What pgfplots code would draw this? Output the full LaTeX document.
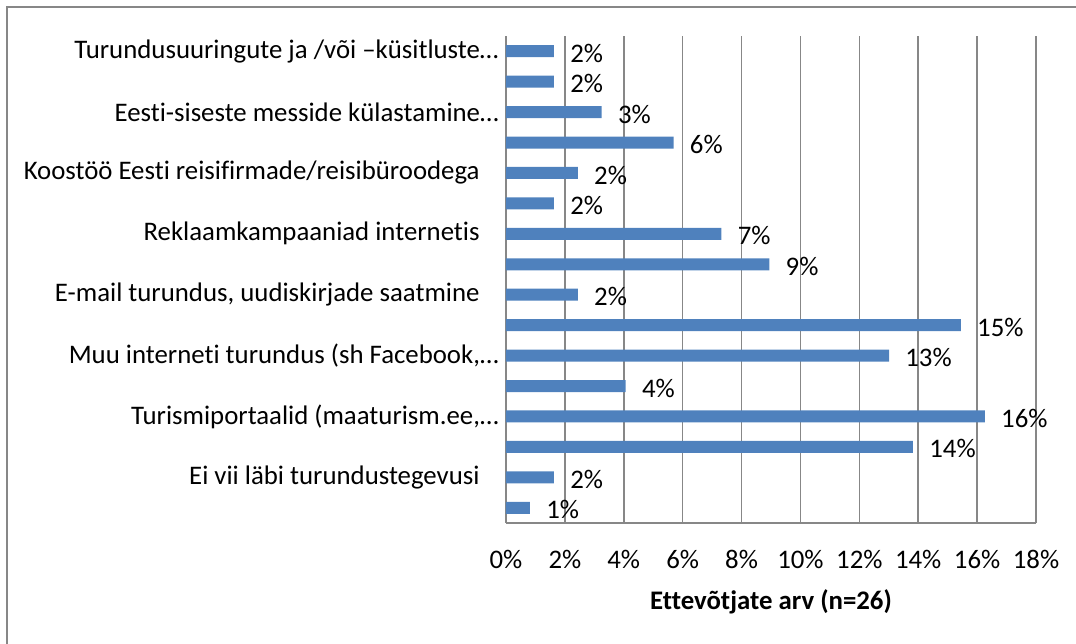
\documentclass[border=0pt]{standalone}
\usepackage{fontspec}
\setmainfont[Ligatures=NoCommon]{Carlito}
\usepackage{pgfplots}
\pgfplotsset{compat=1.18}

\definecolor{barblue}{HTML}{4F81BD}
\definecolor{gridgray}{HTML}{878787}

\newcommand{\pad}{\rule{9.5pt}{0pt}}

\begin{document}
\fontsize{13.4pt}{15pt}\selectfont
\begin{tikzpicture}
\begin{axis}[
    scale only axis,
    width=265pt,
    height=243.5pt,
    xbar,
    bar width=6pt,
    xmin=0, xmax=18,
    ymin=-0.5, ymax=15.5,
    y dir=reverse,
    axis x line=bottom,
    axis y line=left,
    axis line style={gridgray, line width=0.75pt, -},
    xmajorgrids,
    grid style={gridgray, line width=0.75pt},
    major tick length=0pt,
    xtick={0,2,...,18},
    xticklabel={\pgfmathprintnumber{\tick}\%},
    xticklabel style={anchor=base, yshift=-22.5pt},
    /pgf/number format/assume math mode=true,
    ytick={0,...,15},
    yticklabels={
        Turundusuuringute ja /või –küsitluste…, {},
        Eesti-siseste messide külastamine…, {},
        Koostöö Eesti reisifirmade/reisibüroodega\pad, {},
        Reklaamkampaaniad internetis\pad, {},
        {E-mail turundus, uudiskirjade saatmine\pad}, {},
        {Muu interneti turundus (sh Facebook,…}, {},
        {Turismiportaalid (maaturism.ee,…}, {},
        Ei vii läbi turundustegevusi\pad, {}
    },
    yticklabel style={anchor=east, inner xsep=0pt, xshift=-3.5pt},
    xlabel={\bfseries Ettevõtjate arv (n=26)},
    xlabel style={at={(rel axis cs:0.5,0)}, anchor=base, yshift=-43pt},
    point meta=x,
    nodes near coords={\pgfmathprintnumber[fixed,precision=0]{\pgfplotspointmeta}\%},
    nodes near coords style={anchor=west, inner xsep=0pt, xshift=8pt, yshift=-1pt, text=black},
]
\addplot[fill=barblue, draw=none] coordinates {
    (1.626,0) (1.626,1) (3.252,2) (5.691,3) (2.439,4) (1.626,5)
    (7.317,6) (8.943,7) (2.439,8) (15.447,9) (13.008,10) (4.065,11)
    (16.260,12) (13.821,13) (1.626,14) (0.813,15)
};
\end{axis}
\pgfresetboundingbox
\path[use as bounding box] ([shift={(-253pt,-60pt)}]current axis.south west)
    rectangle ([shift={(20pt,18pt)}]current axis.north east);
\draw[gridgray, line width=0.75pt]
    ([shift={(-249.5pt,-62pt)}]current axis.south west)
    -- ([shift={(-249.5pt,14.5pt)}]current axis.north west)
    -- ([shift={(22pt,14.5pt)}]current axis.north east);
\end{tikzpicture}
\end{document}
